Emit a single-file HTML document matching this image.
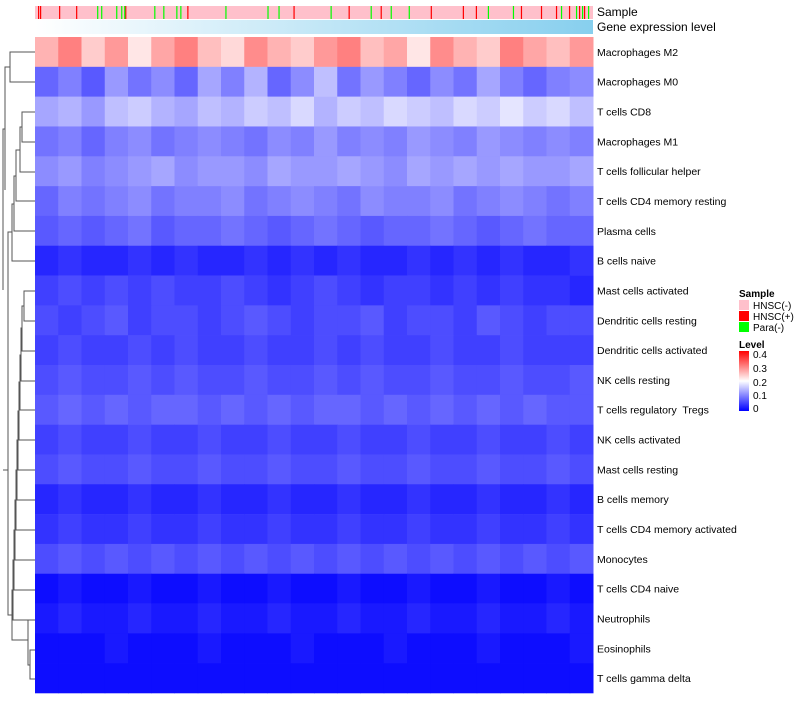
<!DOCTYPE html>
<html><head><meta charset="utf-8"><style>
body{margin:0;background:#fff;font-family:"Liberation Sans",sans-serif;}
svg text{font-family:"Liberation Sans",sans-serif;white-space:pre;}
</style></head><body>
<svg id="chart" width="800" height="700" xmlns="http://www.w3.org/2000/svg">
<defs>
<linearGradient id="geneGrad" x1="0" x2="1" y1="0" y2="0"><stop offset="0" stop-color="#ffffff"/><stop offset="1" stop-color="#87cfee"/></linearGradient>
<linearGradient id="levelGrad" x1="0" x2="0" y1="1" y2="0"><stop offset="0" stop-color="#0000ff"/><stop offset="0.5" stop-color="#ffffff"/><stop offset="1" stop-color="#ff0000"/></linearGradient>
</defs>
<g id="annot"></g>
<g id="cells"></g>
<g id="dendro" stroke="#555" fill="none" stroke-width="1"></g>
<g id="labels"></g>
<text x="597" y="16" font-size="12">Sample</text>
<text x="597" y="31" font-size="12">Gene expression level</text>
<g>
<text x="739" y="297" font-size="10" font-weight="bold">Sample</text>
<rect x="739" y="300" width="10" height="10" fill="#ffc0cb"/>
<text x="753" y="309" font-size="10">HNSC(-)</text>
<rect x="739" y="311" width="10" height="10" fill="#ff0000"/>
<text x="753" y="320" font-size="10">HNSC(+)</text>
<rect x="739" y="322" width="10" height="10" fill="#00ff00"/>
<text x="753" y="331" font-size="10">Para(-)</text>
<text x="739" y="348" font-size="10" font-weight="bold">Level</text>
<rect x="739" y="351" width="10" height="60" fill="url(#levelGrad)"/>
<text x="753" y="358" font-size="10">0.4</text>
<text x="753" y="372" font-size="10">0.3</text>
<text x="753" y="386" font-size="10">0.2</text>
<text x="753" y="399" font-size="10">0.1</text>
<text x="753" y="412" font-size="10">0</text>
</g>
</svg>
<script>
const rowNames=["Macrophages M2","Macrophages M0","T cells CD8","Macrophages M1","T cells follicular helper","T cells CD4 memory resting","Plasma cells","B cells naive","Mast cells activated","Dendritic cells resting","Dendritic cells activated","NK cells resting","T cells regulatory  Tregs","NK cells activated","Mast cells resting","B cells memory","T cells CD4 memory activated","Monocytes","T cells CD4 naive","Neutrophils","Eosinophils","T cells gamma delta"];
const rowM2=[0.26,0.3,0.24,0.28,0.22,0.27,0.3,0.25,0.23,0.29,0.26,0.24,0.28,0.3,0.25,0.27,0.22,0.29,0.26,0.24,0.3,0.27,0.25,0.28];
const rowM0=[0.08,0.1,0.07,0.12,0.09,0.11,0.08,0.13,0.1,0.14,0.08,0.11,0.15,0.09,0.12,0.1,0.08,0.11,0.09,0.13,0.1,0.08,0.1,0.11];
const rowCD8=[0.13,0.14,0.12,0.15,0.16,0.14,0.13,0.15,0.14,0.16,0.15,0.17,0.14,0.16,0.15,0.17,0.16,0.15,0.17,0.16,0.18,0.16,0.17,0.15];
const rowM1=[0.09,0.1,0.08,0.1,0.11,0.09,0.1,0.11,0.1,0.09,0.11,0.1,0.12,0.1,0.11,0.1,0.12,0.11,0.1,0.12,0.11,0.1,0.11,0.1];
const rowTfh=[0.11,0.12,0.1,0.11,0.12,0.13,0.11,0.12,0.12,0.11,0.13,0.12,0.12,0.13,0.12,0.11,0.13,0.12,0.13,0.12,0.13,0.12,0.12,0.13];
const rowCD4mr=[0.08,0.1,0.09,0.1,0.11,0.09,0.1,0.1,0.11,0.09,0.1,0.11,0.1,0.09,0.11,0.1,0.1,0.11,0.09,0.1,0.11,0.1,0.09,0.1];
const rowPlasma=[0.07,0.08,0.07,0.08,0.09,0.07,0.08,0.08,0.09,0.08,0.07,0.08,0.09,0.08,0.07,0.08,0.08,0.09,0.08,0.07,0.08,0.09,0.08,0.08];
const rowBnaive=[0.03,0.04,0.03,0.03,0.04,0.03,0.04,0.03,0.03,0.04,0.03,0.04,0.03,0.04,0.03,0.03,0.04,0.03,0.04,0.03,0.04,0.03,0.03,0.04];
const rowMastA=[0.05,0.06,0.05,0.06,0.05,0.06,0.05,0.05,0.06,0.05,0.04,0.05,0.06,0.05,0.04,0.05,0.05,0.04,0.05,0.04,0.05,0.04,0.04,0.03];
const rowDCr=[0.06,0.05,0.06,0.07,0.05,0.06,0.06,0.05,0.06,0.07,0.06,0.05,0.06,0.06,0.07,0.05,0.06,0.06,0.05,0.07,0.06,0.05,0.06,0.06];
const rowDCa=[0.05,0.06,0.05,0.05,0.06,0.05,0.06,0.05,0.05,0.06,0.05,0.05,0.06,0.05,0.06,0.05,0.05,0.06,0.05,0.05,0.06,0.05,0.05,0.05];
const rowNKr=[0.06,0.07,0.06,0.06,0.07,0.06,0.07,0.06,0.06,0.07,0.06,0.06,0.07,0.06,0.07,0.06,0.06,0.07,0.06,0.06,0.07,0.06,0.06,0.07];
const rowTreg=[0.07,0.08,0.07,0.08,0.07,0.08,0.08,0.07,0.08,0.07,0.08,0.07,0.08,0.08,0.07,0.08,0.07,0.08,0.07,0.08,0.07,0.08,0.07,0.07];
const rowNKa=[0.05,0.06,0.05,0.05,0.06,0.05,0.05,0.06,0.05,0.05,0.06,0.05,0.05,0.06,0.05,0.05,0.06,0.05,0.05,0.06,0.05,0.05,0.06,0.05];
const rowMastR=[0.06,0.07,0.06,0.06,0.07,0.06,0.06,0.07,0.06,0.06,0.07,0.06,0.06,0.07,0.06,0.06,0.07,0.06,0.06,0.07,0.06,0.06,0.07,0.06];
const rowBmem=[0.03,0.04,0.03,0.03,0.04,0.03,0.03,0.04,0.03,0.03,0.04,0.03,0.03,0.04,0.03,0.03,0.04,0.03,0.03,0.04,0.03,0.03,0.04,0.03];
const rowCD4ma=[0.04,0.05,0.04,0.04,0.05,0.04,0.04,0.05,0.04,0.04,0.05,0.04,0.04,0.05,0.04,0.04,0.05,0.04,0.04,0.05,0.04,0.04,0.05,0.04];
const rowMono=[0.06,0.07,0.06,0.07,0.06,0.07,0.06,0.07,0.06,0.07,0.06,0.07,0.06,0.07,0.06,0.07,0.06,0.07,0.06,0.07,0.06,0.07,0.06,0.07];
const rowCD4n=[0.01,0.02,0.01,0.01,0.02,0.01,0.01,0.02,0.01,0.01,0.02,0.01,0.01,0.02,0.01,0.01,0.02,0.01,0.01,0.02,0.01,0.01,0.02,0.01];
const rowNeut=[0.02,0.03,0.02,0.02,0.03,0.02,0.02,0.03,0.02,0.02,0.03,0.02,0.02,0.03,0.02,0.02,0.03,0.02,0.02,0.03,0.02,0.02,0.03,0.02];
const rowEos=[0.01,0.01,0.01,0.02,0.01,0.01,0.01,0.02,0.01,0.01,0.01,0.02,0.01,0.01,0.01,0.02,0.01,0.01,0.01,0.02,0.01,0.01,0.01,0.02];
const rowGD=[0.01,0.01,0.01,0.01,0.01,0.01,0.01,0.01,0.01,0.01,0.01,0.01,0.01,0.01,0.01,0.01,0.01,0.01,0.01,0.01,0.01,0.01,0.01,0.01];
const rowValues=[rowM2,rowM0,rowCD8,rowM1,rowTfh,rowCD4mr,rowPlasma,rowBnaive,rowMastA,rowDCr,rowDCa,rowNKr,rowTreg,rowNKa,rowMastR,rowBmem,rowCD4ma,rowMono,rowCD4n,rowNeut,rowEos,rowGD];
const nSamples=557;
const hnscPosSamples=[3,5,24,41,90,152,258,313,345,395,427,440,485,505,520,533,543,548];
const paraSamples=[62,66,81,86,89,119,128,141,145,190,232,243,295,335,355,373,452,477,525,540,546,552];

const X0=35,X1=593,Y0=37,Y1=693;
const ns="http://www.w3.org/2000/svg";
function col(v){v=Math.max(0,Math.min(0.4,v));let r,g,b;if(v<=0.2){const t=v/0.2;r=Math.round(255*t);g=r;b=255;}else{const t=(v-0.2)/0.2;r=255;g=Math.round(255*(1-t));b=g;}return `rgb(${r},${g},${b})`;}
function xs(i,n){return X0+(X1-X0)*i/n;}
function ys(r){return Y0+(Y1-Y0)*r/rowNames.length;}
function mk(tag,attrs){const e=document.createElementNS(ns,tag);for(const k in attrs)e.setAttribute(k,attrs[k]);return e;}
const cells=document.getElementById('cells');
rowValues.forEach((vals,r)=>{vals.forEach((v,c)=>{
 const e=mk('rect',{x:xs(c,vals.length),y:ys(r),width:(X1-X0)/vals.length+0.5,height:ys(r+1)-ys(r)+0.3,fill:col(v)});
 
 
 cells.appendChild(e);});});
const labels=document.getElementById('labels');
rowNames.forEach((n,r)=>{const t=mk('text',{x:597,y:(ys(r)+ys(r+1))/2+4,'font-size':10.5});t.textContent=n;
 
 
 labels.appendChild(t);});
const annot=document.getElementById('annot');
const sb=mk('rect',{x:X0,y:6,width:X1-X0,height:13,fill:'#ffc0cb'});


annot.appendChild(sb);
hnscPosSamples.forEach(i=>{const e=mk('rect',{x:xs(i,nSamples),y:6,width:1.2,height:13,fill:'#ff0000'});
 
 
 annot.appendChild(e);});
paraSamples.forEach(i=>{const e=mk('rect',{x:xs(i,nSamples),y:6,width:1.2,height:13,fill:'#00ff00'});
 
 
 annot.appendChild(e);});
const gb=mk('rect',{x:X0,y:20,width:X1-X0,height:14,fill:'url(#geneGrad)'});


annot.appendChild(gb);
const dend=document.getElementById('dendro');
const paths=["M35 52H10V82H35","M10 67H5V190","M35 112H22V142H35","M22 127H20V172H35","M20 150H16V201H35","M16 176H14V231H35","M14 204H12V261H35","M12 232H8V330","M5 129H3V290","M35 291H24V321H35","M24 306H22V351H35","M22 328H21V381H35","M21 355H20V410H35","M20 382H19V440H35","M19 411H18V470H35","M18 440H17V500H35","M17 470H16V530H35","M16 500H15V560H35","M15 530H14V590H35","M14 560H13V620H35","M35 650H30V679H35","M30 665H28V620","M13 590H12V640H28","M12 615H8V330","M8 470H3"];
paths.forEach(d=>{const p=mk('path',{d:d});
 
 
 dend.appendChild(p);});
</script>
</body></html>
